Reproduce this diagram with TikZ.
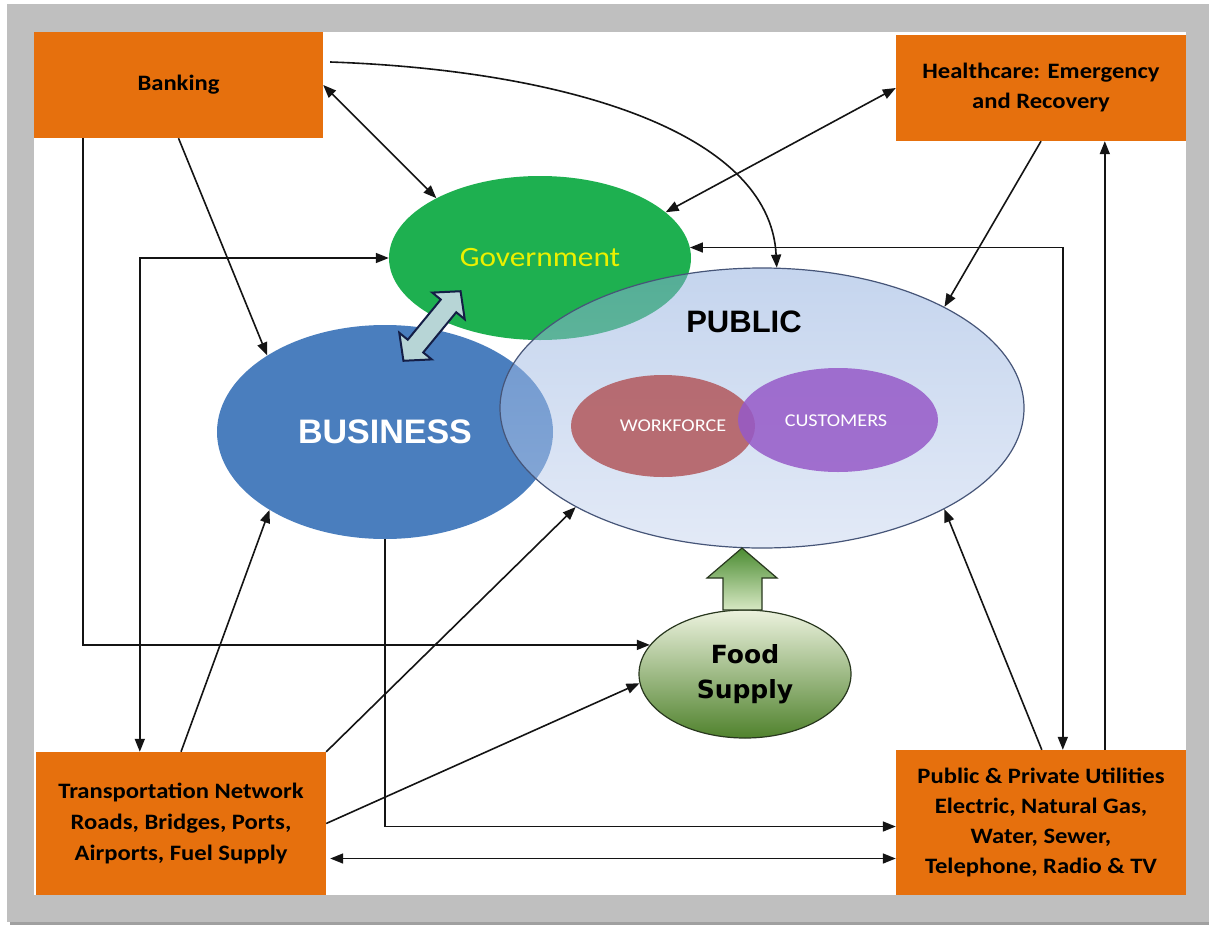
\documentclass[tikz,border=0pt]{standalone}
\usepackage{fontspec}
\setmainfont{Carlito}
\newfontfamily\boxfont[FakeStretch=1.12]{Carlito}
\newfontfamily\heavyfont{Liberation Sans}
\newfontfamily\foodfont{DejaVu Sans}
\usetikzlibrary{arrows.meta,shapes.geometric,calc}
\definecolor{frameg}{RGB}{191,191,191}
\definecolor{shadowg}{RGB}{160,160,160}
\definecolor{boxorange}{RGB}{230,112,13}
\definecolor{govgreen}{RGB}{30,176,80}
\definecolor{govtext}{RGB}{235,240,0}
\definecolor{busblue}{RGB}{74,126,190}
\definecolor{pubtop}{RGB}{140,172,222}
\definecolor{pubmid}{RGB}{232,238,250}
\definecolor{pubbot}{RGB}{200,214,240}
\definecolor{puboutline}{RGB}{70,85,120}
\definecolor{wfred}{RGB}{178,88,92}
\definecolor{cspurple}{RGB}{150,90,200}
\definecolor{foodtop}{RGB}{236,242,222}
\definecolor{foodmid}{RGB}{196,216,160}
\definecolor{foodbot}{RGB}{80,130,45}
\definecolor{foodline}{RGB}{40,55,30}
\definecolor{uptop}{RGB}{75,140,50}
\definecolor{upbot}{RGB}{215,232,195}
\definecolor{dblfill}{RGB}{183,213,214}
\definecolor{dblline}{RGB}{20,30,70}
\definecolor{arrowline}{RGB}{20,20,20}
\begin{document}
\begin{tikzpicture}[x=1pt,y=-1pt,
  orangebox/.style={rectangle, fill=boxorange, inner sep=0, minimum width=290,
    align=center, text=black, font=\boxfont\bfseries\fontsize{22}{30}\selectfont},
  oval/.style={ellipse, inner sep=0},
  conn/.style={draw=arrowline, line width=1.6pt, -{Triangle[length=13pt,width=10pt]}},
  dconn/.style={draw=arrowline, line width=1.6pt, {Triangle[length=13pt,width=10pt]}-{Triangle[length=13pt,width=10pt]}}]

\useasboundingbox (0,0) rectangle (1209,926);
\fill[white] (0,0) rectangle (1209,926);
\fill[shadowg] (10,8) rectangle (1209,925);
\fill[frameg] (7,4) rectangle (1209,922);
\fill[white] (34,32) rectangle (1186,895);

% boxes
\node[orangebox, minimum width=289, minimum height=106] (bank) at (178.5,85) {Banking};
\node[orangebox, minimum height=106] (hc) at (1041,88) {Healthcare: Emergency\\and Recovery};
\node[orangebox, minimum height=143, font=\boxfont\bfseries\fontsize{22}{31}\selectfont] (trans) at (181,823.5) {Transportation Network\\Roads, Bridges, Ports,\\Airports, Fuel Supply};
\node[orangebox, minimum height=145] (util) at (1041,822.5) {Public \& Private Utilities\\Electric, Natural Gas,\\Water, Sewer,\\Telephone, Radio \& TV};

% ovals
\node[oval, minimum width=302, minimum height=164, fill=govgreen, text=govtext,
  font=\boxfont\fontsize{28}{30}\selectfont] (gov) at (540,258) {Government};
\node[oval, minimum width=336, minimum height=214, fill=busblue, text=white,
  font=\heavyfont\bfseries\fontsize{34}{36}\selectfont] (bus) at (385,432) {BUSINESS};

% double arrow business <-> government
\begin{scope}[shift={(432,326)}, rotate=50.6]
  \filldraw[fill=dblfill, draw=dblline, line width=2pt, line join=miter]
    (45,0) -- (26,21) -- (26,10) -- (-26,10) -- (-26,21) -- (-45,0)
    -- (-26,-21) -- (-26,-10) -- (26,-10) -- (26,-21) -- cycle;
\end{scope}

\node[oval, minimum width=524, minimum height=280, top color=pubtop, middle color=pubmid,
  bottom color=pubbot, fill opacity=0.5, draw=puboutline, draw opacity=1, line width=1.2pt] (pub) at (762,408) {};
\node[font=\heavyfont\bfseries\fontsize{31}{33}\selectfont, text=black] (pubtxt) at (744,322) {PUBLIC};

\node[oval, minimum width=184, minimum height=102, fill=wfred, fill opacity=0.85] (wf) at (663,426) {};
\node[oval, minimum width=200, minimum height=104, fill=cspurple, fill opacity=0.85] (cs) at (838,420) {};
\node[font=\boxfont\fontsize{18}{19}\selectfont, text=white] (wftxt) at (673,426) {WORKFORCE};
\node[font=\boxfont\fontsize{18}{19}\selectfont, text=white] (cstxt) at (836,421) {CUSTOMERS};

% food supply
\node[oval, minimum width=212, minimum height=128, top color=foodtop, middle color=foodmid,
  bottom color=foodbot, draw=foodline, line width=1.2pt, align=center, text=black,
  font=\foodfont\bfseries\fontsize{25}{35}\selectfont] (food) at (745,674) {Food\\Supply};

% up arrow food -> public
\shade[top color=uptop, bottom color=upbot, draw=foodline, line width=1.2pt]
  (723,610) -- (723,578) -- (707,578) -- (742,548) -- (777,578) -- (762,578) -- (762,610) -- cycle;

% connectors
\draw[dconn] (bank.east) -- (gov.150);
\draw[conn] ($(bank.east)+(7,-23)$) .. controls (560,70) and (770,130) .. (pub.84);
\draw[conn] (bank.south) -- (bus.147);
\draw[conn] ($(bank.south west)+(49,0)$) |- (food.163);
\draw[dconn] (gov.west) -| ($(trans.north west)+(104,0)$);
\draw[conn] (trans.north) -- (bus.214);
\draw[conn] (trans.north east) -- (pub.208);
\draw[conn] (trans.east) -- (food.185);
\draw[conn] (bus.south) |- ($(util.west)+(0,4)$);
\draw[dconn] ($(trans.east)+(4,35)$) coordinate (t1) -- (t1 -| util.west);
\draw[dconn] (hc.west) -- (gov.20);
\draw[conn] (hc.south) -- (pub.29);
\draw[conn] ($(util.north west)+(209,0)$) coordinate (u1) -- (u1 |- hc.south);
\draw[dconn] (gov.4) -| ($(util.north west)+(167,0)$);
\draw[conn] ($(util.north west)+(146,0)$) -- (pub.331);
\end{tikzpicture}
\end{document}
